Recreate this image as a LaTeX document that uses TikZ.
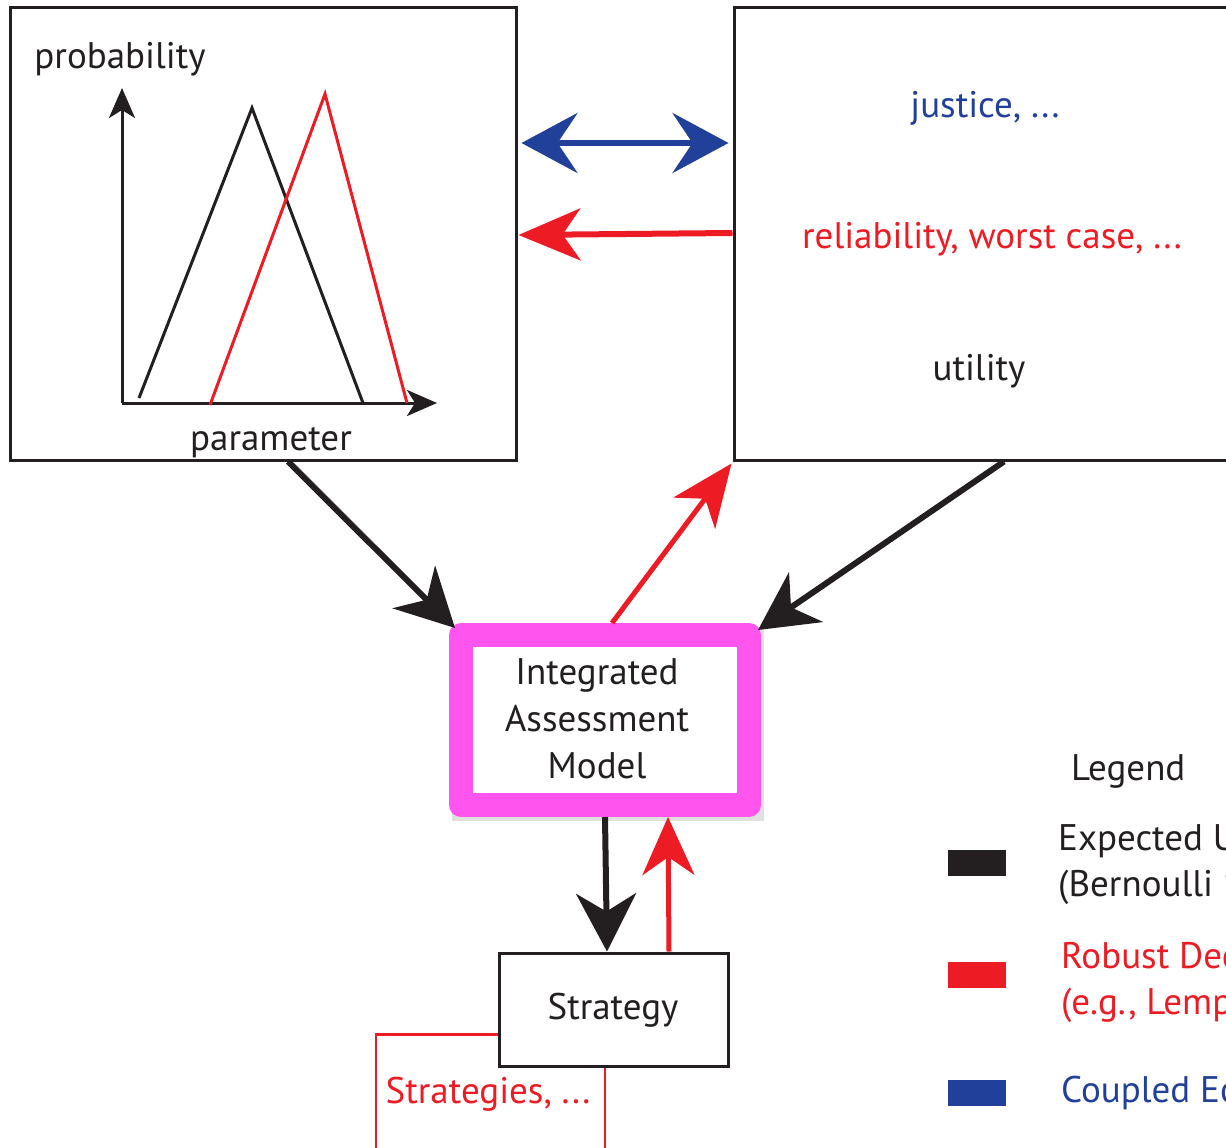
\documentclass[tikz,border=0pt]{standalone}
\usepackage{fontspec}
\setmainfont{PT Sans}
\usetikzlibrary{arrows.meta,calc}
\definecolor{ink}{HTML}{231F20}
\definecolor{rred}{HTML}{ED1C24}
\definecolor{bblue}{HTML}{21409A}
\definecolor{mag}{HTML}{FF55EE}
\tikzset{
  box/.style={draw=ink,line width=3pt,fill=white,inner sep=0pt},
  lbl/.style={font=\fontsize{37}{46}\selectfont,inner sep=0pt,align=center},
  bigtip/.style={-{Stealth[length=58pt,width=60pt,inset=18pt]}},
  conn/.style={line width=6pt,bigtip},
  redtip/.style={-{Stealth[length=62pt,width=52pt,inset=18pt]}},
  swatch/.style={minimum width=58pt,minimum height=26pt,inner sep=0pt,draw=none}
}
\begin{document}
\begin{tikzpicture}[x=1pt,y=-1pt]
\useasboundingbox (0,0) rectangle (1226,1148);
\clip (0,0) rectangle (1226,1148);
% boxes
\node[box,minimum width=506pt,minimum height=452pt] (pdf) at (263,234) {};
\node[box,minimum width=566pt,minimum height=452pt] (val) at (1017,234) {};
% plot in pdf box
\draw[ink,line width=3pt,-{Stealth[length=30pt,width=26pt,inset=8pt]}] (122,403) -- (122,88);
\draw[ink,line width=3pt,-{Stealth[length=30pt,width=26pt,inset=8pt]}] (122,403) -- (437,403);
\draw[ink,line width=3pt] (139,398) -- (252,108) -- (363,403);
\draw[rred,line width=3pt] (210,405) -- (325,94) -- (407,403);
\node[lbl,ink] (prob) at (120,59) {probability};
\node[lbl,ink] (param) at (271,443) {parameter};
% values box texts
\node[lbl,bblue] (just) at (985,108) {justice, ...};
\node[lbl,rred] (rel) at (992,239) {reliability, worst case, ...};
\node[lbl,ink] (util) at (979,371) {utility};
% IAM
\fill[black!12] (452,627) rectangle (764,821);
\node[draw=mag,line width=24pt,line join=round,fill=white,minimum width=288pt,minimum height=170pt,inner sep=0pt] (iam) at (605,720) {};
\node[lbl,ink,font=\fontsize{37}{47}\selectfont] (iamt) at (597,719) {Integrated\\Assessment\\Model};
% strategies
\node[draw=rred,line width=2.5pt,fill=white,minimum width=229pt,minimum height=115pt,inner sep=0pt] (strs) at (490.5,1092) {};
\node[lbl,rred] (strst) at (488,1094) {Strategies, ...};
\node[box,minimum width=229pt,minimum height=113pt] (strat) at (613.5,1009.5) {};
\node[lbl,ink] (stratt) at (613,1010) {Strategy};
% connectors
\draw[bblue,line width=6pt,{Stealth[length=56pt,width=60pt,inset=20pt]}-{Stealth[length=56pt,width=60pt,inset=20pt]}]
  ([xshift=4,yshift=91]pdf.east) -- ([xshift=-4,yshift=91]val.west);
\draw[rred,line width=6pt,redtip]
  ([yshift=1]val.west) -- ([xshift=1,yshift=-1]pdf.east);
\draw[ink,conn] ([xshift=25]pdf.south) -- ([xshift=6,yshift=-5]iam.north west);
\draw[rred,line width=5pt,redtip] ([xshift=7]iam.north) -- ([xshift=-1,yshift=-2]val.south west);
\draw[ink,conn] ([xshift=-13]val.south) -- ([xshift=-3,yshift=-7]iam.north east);
\draw[ink,conn] (iam.south) -- ([xshift=-6.5]strat.north);
\draw[rred,line width=5pt,-{Stealth[length=58pt,width=52pt,inset=18pt]}] ([xshift=55.5]strat.north) -- ([xshift=63]iam.south);
% legend
\node[lbl,ink,anchor=west] (legt) at (1071,771) {Legend};
\node[swatch,fill=ink] (swk) at (977,863) {};
\node[swatch,fill=rred] (swr) at (977,975) {};
\node[swatch,fill=bblue] (swb) at (977,1093) {};
\node[lbl,ink,anchor=west,align=left] (legk) at (1058,864) {Expected Utility\\(Bernoulli 1738)};
\node[lbl,rred,anchor=west,align=left] (legr) at (1061,982) {Robust Decision Making\\(e.g., Lempert et al.)};
\node[lbl,bblue,anchor=west] (legb) at (1061,1093) {Coupled Economy};
\end{tikzpicture}
\end{document}
